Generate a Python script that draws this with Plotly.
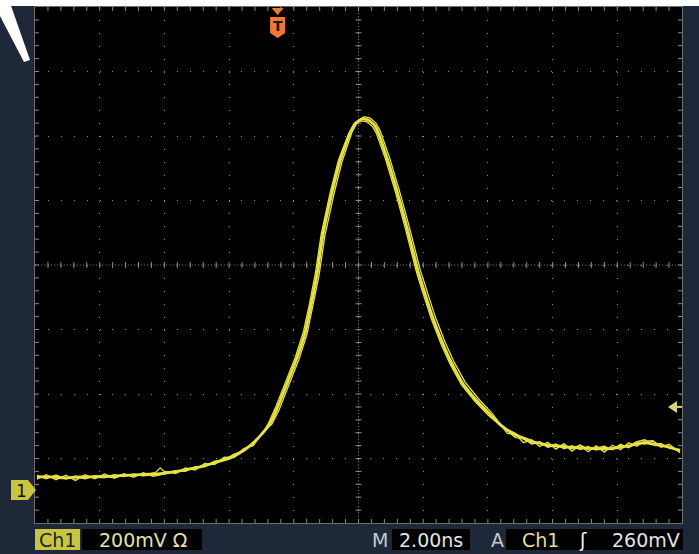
import plotly.graph_objects as go

# ---- waveform data (time in ns relative to trigger, voltage in V above ground) ----
main_t = [-7.44, -7.04, -6.57, -6.11, -5.49, -4.87, -4.25, -3.64, -3.02, -2.40,
          -1.94, -1.47, -1.16, -0.85, -0.45, -0.24, -0.02, 0.29, 0.60, 0.85,
          1.03, 1.22, 1.40, 1.68, 1.93, 2.24, 2.42, 2.61, 2.79, 2.98,
          3.10, 3.38, 3.69, 4.00, 4.34, 4.50, 4.80, 5.11, 5.39, 5.73,
          6.16, 6.57, 6.88, 7.28, 7.90, 8.51, 9.35, 10.18, 10.89, 11.30,
          11.67, 12.07, 12.44]
main_v = [0.043, 0.043, 0.040, 0.043, 0.043, 0.047, 0.050, 0.053, 0.062, 0.074,
          0.087, 0.102, 0.118, 0.140, 0.180, 0.208, 0.254, 0.332, 0.412, 0.490,
          0.574, 0.673, 0.794, 0.924, 1.023, 1.110, 1.141, 1.153, 1.150, 1.135,
          1.113, 1.033, 0.930, 0.816, 0.682, 0.629, 0.536, 0.456, 0.394, 0.332,
          0.279, 0.236, 0.205, 0.177, 0.152, 0.140, 0.133, 0.130, 0.140, 0.149,
          0.143, 0.136, 0.124]

# other acquisitions through the pulse (slightly jittered in time / amplitude)
mid_t_a = [-0.24, -0.02, 0.29, 0.60, 0.85, 1.03, 1.22, 1.40, 1.68, 1.93,
           2.24, 2.42, 2.61, 2.79, 2.98, 3.10, 3.38, 3.69, 4.00, 4.34,
           4.50, 4.80, 5.11, 5.39, 5.73, 6.16, 6.57]
mid_v_a = [0.208, 0.254, 0.332, 0.412, 0.490, 0.574, 0.673, 0.794, 0.924, 1.023,
           1.110, 1.141, 1.153, 1.150, 1.135, 1.113, 1.033, 0.930, 0.816, 0.682,
           0.629, 0.536, 0.456, 0.394, 0.332, 0.279, 0.236]
mid_t_b = [-0.18, 0.04, 0.35, 0.66, 0.91, 1.09, 1.28, 1.46, 1.74, 1.99,
           2.30, 2.48, 2.67, 2.85, 3.04, 3.17, 3.45, 3.76, 4.07, 4.41,
           4.57, 4.87, 5.18, 5.46, 5.80, 6.23, 6.63]
mid_v_b = [0.206, 0.250, 0.328, 0.408, 0.486, 0.570, 0.668, 0.790, 0.920, 1.020,
           1.112, 1.146, 1.160, 1.156, 1.140, 1.116, 1.036, 0.932, 0.818, 0.684,
           0.632, 0.540, 0.460, 0.398, 0.336, 0.283, 0.240]
mid_t_c = [-0.28, -0.07, 0.24, 0.55, 0.80, 0.98, 1.17, 1.35, 1.63, 1.88,
           2.19, 2.37, 2.56, 2.74, 2.93, 3.05, 3.33, 3.64, 3.95, 4.29,
           4.45, 4.75, 5.06, 5.34, 5.68, 6.11, 6.52]
mid_v_c = [0.210, 0.257, 0.335, 0.415, 0.494, 0.577, 0.676, 0.797, 0.927, 1.025,
           1.106, 1.136, 1.147, 1.145, 1.130, 1.109, 1.030, 0.927, 0.813, 0.679,
           0.626, 0.533, 0.453, 0.391, 0.329, 0.276, 0.233]

# noisy acquisitions: baseline before the pulse
left_t = [-7.44, -7.15, -6.85, -6.55, -6.25, -5.95, -5.65, -5.35, -5.05, -4.75,
          -4.45, -4.15, -3.85, -3.63, -3.45, -3.15, -2.85, -2.55, -2.25, -1.95,
          -1.65, -1.35, -1.05, -0.75, -0.45]
left_v_a = [0.048, 0.037, 0.049, 0.036, 0.046, 0.039, 0.047, 0.040, 0.050, 0.044,
            0.052, 0.046, 0.049, 0.071, 0.054, 0.062, 0.060, 0.075, 0.074, 0.092,
            0.094, 0.114, 0.122, 0.150, 0.178]
left_v_b = [0.036, 0.050, 0.034, 0.048, 0.032, 0.050, 0.037, 0.052, 0.039, 0.053,
            0.042, 0.056, 0.045, 0.049, 0.060, 0.053, 0.071, 0.064, 0.085, 0.081,
            0.104, 0.103, 0.131, 0.140, 0.184]
left_v_c = [0.045, 0.041, 0.044, 0.039, 0.043, 0.037, 0.046, 0.045, 0.041, 0.048,
            0.049, 0.047, 0.055, 0.050, 0.053, 0.061, 0.063, 0.072, 0.076, 0.089,
            0.099, 0.111, 0.127, 0.147, 0.181]

# noisy acquisitions: tail after the pulse
right_t = [6.87, 7.10, 7.35, 7.60, 7.85, 8.10, 8.35, 8.60, 8.85, 9.10,
           9.35, 9.60, 9.85, 10.10, 10.35, 10.60, 10.85, 11.10, 11.35, 11.60,
           11.85, 12.10, 12.44]
right_v_a = [0.203, 0.190, 0.178, 0.160, 0.148, 0.152, 0.138, 0.145, 0.130, 0.140,
             0.128, 0.137, 0.126, 0.135, 0.129, 0.141, 0.137, 0.152, 0.158, 0.143,
             0.147, 0.132, 0.128]
right_v_b = [0.209, 0.178, 0.175, 0.149, 0.158, 0.137, 0.150, 0.129, 0.146, 0.123,
             0.141, 0.121, 0.139, 0.120, 0.141, 0.127, 0.149, 0.138, 0.154, 0.155,
             0.135, 0.144, 0.118]
right_v_c = [0.206, 0.186, 0.165, 0.163, 0.145, 0.149, 0.135, 0.141, 0.139, 0.131,
             0.142, 0.129, 0.133, 0.138, 0.127, 0.144, 0.133, 0.148, 0.145, 0.153,
             0.140, 0.135, 0.126]

# scope settings / readouts
ch_label = "Ch1"
volts_div = "200mV Ω"
time_label = "M"
time_div = "2.00ns"
trig_mode = "A"
trig_src = "Ch1"
trig_slope = "ʃ"
trig_level_txt = "260mV"
trig_level = 0.26   # V

X_RANGE = [-7.5, 12.5]   # 10 div x 2 ns
Y_RANGE = [-0.1, 1.5]    # 8 div x 0.2 V

# ---- geometry helpers (pixel -> paper) ----
W, H = 699, 554
L, R, T, B = 35, 682, 7, 523


def px(x):
    return (x - L) / (R - L)


def py(y):
    return (B - y) / (B - T)


def path(points):
    return "M " + " L ".join(f"{px(a):.5f},{py(b):.5f}" for a, b in points) + " Z"


YEL = "#e4e246"
NAVY = "#1f2839"
GRID = "#8c8c8c"

fig = go.Figure()

for lv, mt, mv, rv in [(left_v_a, mid_t_a, mid_v_a, right_v_a),
                       (left_v_b, mid_t_b, mid_v_b, right_v_b),
                       (left_v_c, mid_t_c, mid_v_c, right_v_c)]:
    fig.add_trace(go.Scatter(
        x=left_t + mt + right_t, y=lv + mv + rv,
        mode="lines", line=dict(color=YEL, width=1.3),
        hoverinfo="skip", showlegend=False))

fig.add_trace(go.Scatter(x=main_t, y=main_v, mode="lines",
                         line=dict(color=YEL, width=2.8, shape="spline", smoothing=0.5),
                         hoverinfo="skip", showlegend=False))

shapes = []
# center cross dotted lines + small ticks
xc = (X_RANGE[0] + X_RANGE[1]) / 2
yc = (Y_RANGE[0] + Y_RANGE[1]) / 2
shapes.append(dict(type="line", xref="x", yref="paper", x0=xc, x1=xc, y0=0, y1=1,
                   line=dict(color=GRID, width=1, dash="1px,2.2px"), layer="below"))
shapes.append(dict(type="line", xref="paper", yref="y", x0=0, x1=1, y0=yc, y1=yc,
                   line=dict(color=GRID, width=1, dash="1px,2.2px"), layer="below"))
dx_minor = 0.4
n_x = int(round((X_RANGE[1] - X_RANGE[0]) / dx_minor))
for k in range(1, n_x):
    xv = X_RANGE[0] + k * dx_minor
    yv_c = 0.5
    shapes.append(dict(type="line", xref="x", yref="paper", x0=xv, x1=xv,
                       y0=yv_c - 3 / 516, y1=yv_c + 3 / 516,
                       line=dict(color=GRID, width=1), layer="below"))
    shapes.append(dict(type="line", xref="x", yref="paper", x0=xv, x1=xv,
                       y0=0, y1=4 / 516, line=dict(color=GRID, width=1), layer="below"))
    shapes.append(dict(type="line", xref="x", yref="paper", x0=xv, x1=xv,
                       y0=1 - 4 / 516, y1=1, line=dict(color=GRID, width=1), layer="below"))
dy_minor = 0.04
n_y = int(round((Y_RANGE[1] - Y_RANGE[0]) / dy_minor))
for k in range(1, n_y):
    yv = Y_RANGE[0] + k * dy_minor
    xv_c = 0.5
    shapes.append(dict(type="line", xref="paper", yref="y", y0=yv, y1=yv,
                       x0=xv_c - 3 / 647, x1=xv_c + 3 / 647,
                       line=dict(color=GRID, width=1), layer="below"))
    shapes.append(dict(type="line", xref="paper", yref="y", y0=yv, y1=yv,
                       x0=0, x1=4 / 647, line=dict(color=GRID, width=1), layer="below"))
    shapes.append(dict(type="line", xref="paper", yref="y", y0=yv, y1=yv,
                       x0=1 - 4 / 647, x1=1, line=dict(color=GRID, width=1), layer="below"))

# white page bits at the top / diagonal stripe
shapes.append(dict(type="rect", xref="paper", yref="paper", x0=px(0), x1=px(699),
                   y0=py(6), y1=py(0), fillcolor="white", line=dict(width=0)))
shapes.append(dict(type="path", xref="paper", yref="paper",
                   path=path([(0, 0), (9, 0), (30, 60), (24, 62), (0, 16)]),
                   fillcolor="white", line=dict(width=0)))

# trigger position marker (orange T)
ORANGE = "#f07a32"
tx = L + (0 - X_RANGE[0]) / (X_RANGE[1] - X_RANGE[0]) * (R - L)
shapes.append(dict(type="path", xref="paper", yref="paper",
                   path=path([(tx - 6, 8), (tx + 6, 8), (tx, 15)]),
                   fillcolor=ORANGE, line=dict(width=0)))
shapes.append(dict(type="path", xref="paper", yref="paper",
                   path=path([(tx - 7.5, 17), (tx + 7.5, 17), (tx + 7.5, 33), (tx, 38), (tx - 7.5, 33)]),
                   fillcolor=ORANGE, line=dict(width=0)))

# ground marker "1"
gy = 490
shapes.append(dict(type="path", xref="paper", yref="paper",
                   path=path([(11, gy - 10), (28, gy - 10), (36, gy), (28, gy + 10), (11, gy + 10)]),
                   fillcolor="#c9c53e", line=dict(width=0)))

# trigger level arrow on right
ty = B - (trig_level - Y_RANGE[0]) / (Y_RANGE[1] - Y_RANGE[0]) * (B - T)
shapes.append(dict(type="path", xref="paper", yref="paper",
                   path=path([(668, ty), (677, ty - 6), (677, ty + 6)]),
                   fillcolor="#d6d37a", line=dict(width=0)))
shapes.append(dict(type="line", xref="paper", yref="paper", x0=px(676), x1=px(682),
                   y0=py(ty), y1=py(ty), line=dict(color="#d6d37a", width=2)))

# readout boxes
shapes.append(dict(type="rect", xref="paper", yref="paper", x0=px(35), x1=px(80),
                   y0=py(550), y1=py(529), fillcolor="#c9c53e", line=dict(width=0)))
for a, b in [(82, 202), (392, 470), (506, 683)]:
    shapes.append(dict(type="rect", xref="paper", yref="paper", x0=px(a), x1=px(b),
                       y0=py(550), y1=py(529), fillcolor="black", line=dict(width=0)))

FONT = "DejaVu Sans"
ann = []


def label(x, y, text, color, size=19, xanchor="center"):
    ann.append(dict(x=px(x), y=py(y), xref="paper", yref="paper", text=text,
                    showarrow=False, xanchor=xanchor, yanchor="middle",
                    font=dict(family=FONT, size=size, color=color)))


label(57.5, 540, ch_label, "#1c2436")
label(143, 540, volts_div, "#e4e2a6")
label(380, 540, time_label, "#c4c8d0")
label(431, 540, time_div, "#e4e4e4")
label(497, 540, trig_mode, "#c4c8d0")
label(540, 540, trig_src, "#e0de9c")
label(583, 540, trig_slope, "#f0f0f0")
label(682, 540, trig_level_txt, "#e4e4e4", xanchor="right")
label(21, gy + 1, "1", "#111111", 17)
ann.append(dict(x=px(tx), y=py(26), xref="paper", yref="paper", text="<b>T</b>",
                showarrow=False, xanchor="center", yanchor="middle",
                font=dict(family=FONT, size=14, color="#1a1a1a")))

axis_common = dict(showticklabels=False, ticks="", zeroline=False, showline=True,
                   linecolor="#6e6e6e", linewidth=1, mirror=True, fixedrange=True,
                   showgrid=True, gridcolor=GRID, gridwidth=1, griddash="1px,11.9px")

fig.update_layout(
    width=W, height=H,
    margin=dict(l=L, r=W - R, t=T, b=H - B, pad=0),
    paper_bgcolor=NAVY, plot_bgcolor="black",
    xaxis=dict(range=X_RANGE, tick0=X_RANGE[0], dtick=2, **axis_common),
    yaxis=dict(range=Y_RANGE, tick0=Y_RANGE[0], dtick=0.2, **axis_common),
    shapes=shapes, annotations=ann, showlegend=False, hovermode=False,
)

fig.write_html("out.html", config={"displayModeBar": False},
               post_script="document.body.style.margin='0px';document.body.style.overflow='hidden';")
